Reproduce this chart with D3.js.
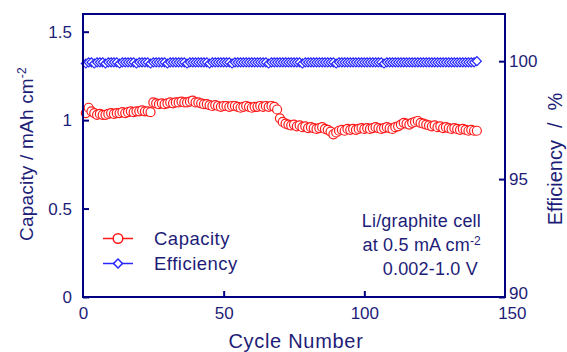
<!DOCTYPE html>
<html>
<head>
<meta charset="utf-8">
<script src="https://cdn.jsdelivr.net/npm/d3@7"></script>
<style>
  body { margin: 0; background: #fff; }
  text { font-family: "Liberation Sans", Arial, sans-serif; }
</style>
</head>
<body>
<svg id="chart" width="567" height="352"></svg>
<script>
// capacity (mAh cm-2) for cycles 1..140
const capacity = [
  1.04, 1.07, 1.05, 1.04, 1.03, 1.035, 1.03, 1.03, 1.035, 1.04, 1.035, 1.04, 1.04, 1.045, 1.04, 1.045, 1.05, 1.045, 1.05, 1.05, 1.055, 1.05, 1.05, 1.045,
  1.10, 1.095, 1.09, 1.095, 1.09, 1.095, 1.10, 1.095, 1.10, 1.10, 1.105, 1.10, 1.10, 1.105, 1.11, 1.10, 1.10, 1.095, 1.09, 1.09, 1.085,
  1.08, 1.085, 1.08, 1.075, 1.08, 1.08, 1.075, 1.08, 1.08, 1.075, 1.07, 1.075, 1.08, 1.075, 1.07, 1.075, 1.075, 1.08, 1.075, 1.08, 1.075, 1.08, 1.075,
  1.06, 1.01, 0.99, 0.98, 0.975, 0.97, 0.975, 0.965, 0.97, 0.96, 0.965, 0.955,
  0.96, 0.955, 0.95, 0.955, 0.96, 0.95, 0.945, 0.935, 0.92, 0.93,
  0.94, 0.945, 0.94, 0.95, 0.945, 0.95, 0.945, 0.95, 0.955, 0.95, 0.955, 0.95, 0.955, 0.96, 0.955, 0.95, 0.955, 0.96, 0.955, 0.95,
  0.96, 0.965, 0.975, 0.985, 0.98, 0.975, 0.985, 0.99, 0.995, 0.985, 0.98, 0.975,
  0.97, 0.965, 0.97, 0.96, 0.965, 0.955, 0.96, 0.955, 0.95, 0.955, 0.95, 0.945, 0.95, 0.945, 0.94, 0.945, 0.94, 0.94
];

// coulombic efficiency (%) for cycles 1..140
const efficiency = [
  99.9, 99.95, 99.95, 99.9, 99.95, 99.95, 99.95, 99.9, 99.95, 99.95, 99.95, 99.95, 99.9, 99.95, 99.95, 99.95, 99.95, 99.95, 99.9, 99.95,
  99.95, 99.95, 99.95, 99.9, 99.95, 99.95, 99.95, 99.95, 99.95, 99.9, 99.95, 99.95, 99.95, 99.95, 99.95, 99.95, 99.9, 99.95, 99.95, 99.95,
  99.95, 99.95, 99.95, 99.95, 99.9, 99.95, 99.95, 99.95, 99.95, 99.95, 99.95, 99.95, 99.9, 99.95, 99.95, 99.95, 99.95, 99.95, 99.95, 99.95,
  99.95, 99.95, 99.95, 99.95, 99.95, 99.9, 99.95, 99.95, 99.95, 99.95, 99.95, 99.95, 99.95, 99.95, 99.95, 99.95, 99.95, 99.9, 99.95, 99.95,
  99.95, 99.95, 99.95, 99.95, 99.95, 99.95, 99.95, 99.95, 99.95, 99.9, 99.95, 99.95, 99.95, 99.95, 99.95, 99.95, 99.95, 99.95, 99.95, 99.95,
  99.95, 99.95, 99.95, 99.95, 99.95, 99.95, 99.9, 99.95, 99.95, 99.95, 99.95, 99.95, 99.95, 99.95, 99.95, 99.95, 99.95, 99.95, 99.95, 99.95,
  99.95, 99.95, 99.95, 99.95, 99.95, 99.95, 99.95, 99.95, 99.95, 99.95, 99.95, 99.95, 99.95, 99.95, 99.95, 99.95, 99.95, 99.95, 99.95, 100.0
];

const xTicks = [0, 50, 100, 150];
const capTicks = [0, 0.5, 1, 1.5];
const effTicks = [90, 95, 100];
const seriesNames = ["Capacity", "Efficiency"];
const noteLines = ["Li/graphite cell", "at 0.5 mA cm", "0.002-1.0 V"];

const navy = "#000080";
const textCol = "#1d1d78";
const red = "#ff1a1a";
const blue = "#2626ff";

const svg = d3.select("#chart");
const mLeft = 83, mRight = 505, mTop = 14, mBottom = 297;

const x = d3.scaleLinear().domain([0, 150]).range([mLeft, mRight]);
const yCap = d3.scaleLinear().domain([0, 1.6]).range([mBottom, mTop]);
const yEff = d3.scaleLinear().domain([90, 102]).range([mBottom, mTop]);

const diamond = d3.symbol().type(d3.symbolSquare).size(40);

// efficiency markers (drawn first, behind)
svg.append("g")
  .selectAll("path")
  .data(efficiency)
  .join("path")
    .attr("d", diamond)
    .attr("transform", (d, i) => `translate(${x(i + 1)},${yEff(d)}) rotate(45)`)
    .attr("fill", "#fff")
    .attr("stroke", blue)
    .attr("stroke-width", 1.2);

// capacity markers
svg.append("g")
  .selectAll("circle")
  .data(capacity)
  .join("circle")
    .attr("cx", (d, i) => x(i + 1))
    .attr("cy", d => yCap(d))
    .attr("r", 4.5)
    .attr("fill", "#fff")
    .attr("stroke", red)
    .attr("stroke-width", 1.2);

// axes
function styleAxis(g) {
  g.select(".domain").remove();
  g.selectAll(".tick line").attr("stroke", navy).attr("stroke-width", 2);
  g.selectAll(".tick text")
    .attr("fill", textCol)
    .style("font-size", "17px")
    .style("font-family", "Liberation Sans, Arial, sans-serif");
}

svg.append("g")
  .attr("transform", `translate(${mLeft},0)`)
  .call(d3.axisLeft(yCap).tickValues(capTicks).tickFormat(d => d).tickSize(-6).tickPadding(11))
  .call(styleAxis);

svg.append("g")
  .attr("transform", `translate(${mRight},0)`)
  .call(d3.axisRight(yEff).tickValues(effTicks).tickFormat(d => d).tickSize(-6).tickPadding(4))
  .call(styleAxis)
  .call(g => g.selectAll(".tick text").filter(d => d === 90).attr("dy", "0.1em"));

svg.append("g")
  .attr("transform", `translate(0,${mBottom})`)
  .call(d3.axisBottom(x).tickValues(xTicks).tickSize(-6).tickPadding(10))
  .call(styleAxis)
  .call(g => g.selectAll(".tick line").filter(d => d === 0 || d === 150).remove())
  .call(g => g.selectAll(".tick text").filter(d => d === 150).attr("dx", "0.4em"));

// frame
svg.append("rect")
  .attr("x", mLeft).attr("y", mTop)
  .attr("width", mRight - mLeft).attr("height", mBottom - mTop)
  .attr("fill", "none")
  .attr("stroke", navy)
  .attr("stroke-width", 2);

// axis titles
svg.append("text")
  .attr("transform", "translate(33,154) rotate(-90)")
  .attr("text-anchor", "middle")
  .attr("fill", textCol)
  .style("font-size", "19px")
  .style("letter-spacing", "0.2px")
  .call(t => {
    t.append("tspan").text("Capacity / mAh cm");
    t.append("tspan").attr("dy", "-0.55em").style("font-size", "12px").text("-2");
  });

svg.append("text")
  .attr("transform", "translate(562,159) rotate(-90)")
  .attr("text-anchor", "middle")
  .attr("fill", textCol)
  .style("font-size", "20px")
  .call(t => {
    t.append("tspan").text("Efficiency");
    t.append("tspan").attr("dx", 12).text("/");
    t.append("tspan").attr("dx", 12).text("%");
  });

svg.append("text")
  .attr("x", 296).attr("y", 348)
  .attr("text-anchor", "middle")
  .attr("fill", textCol)
  .style("font-size", "20px")
  .style("letter-spacing", "0.7px")
  .text("Cycle Number");

// legend
const legend = svg.append("g");
seriesNames.forEach((name, i) => {
  const ly = 238.5 + i * 25;
  legend.append("line")
    .attr("x1", 103).attr("x2", 133).attr("y1", ly).attr("y2", ly)
    .attr("stroke", i === 0 ? red : blue).attr("stroke-width", 1.5);
  if (i === 0) {
    legend.append("circle").attr("cx", 118).attr("cy", ly).attr("r", 4.8)
      .attr("fill", "#fff").attr("stroke", red).attr("stroke-width", 1.5);
  } else {
    legend.append("path").attr("d", diamond)
      .attr("transform", `translate(118,${ly}) rotate(45)`)
      .attr("fill", "#fff").attr("stroke", blue).attr("stroke-width", 1.5);
  }
  legend.append("text")
    .attr("x", 154).attr("y", ly + 6.5)
    .attr("fill", textCol)
    .style("font-size", "18.5px")
    .style("letter-spacing", "0.5px")
    .text(name);
});

// annotation
noteLines.forEach((line, i) => {
  const t = svg.append("text")
    .attr("x", i === 2 ? 478 : 481).attr("y", 227 + i * 23.8)
    .attr("text-anchor", "end")
    .attr("fill", textCol)
    .style("font-size", "18px")
    .style("letter-spacing", "0.2px");
  t.append("tspan").text(line);
  if (i === 1) t.append("tspan").attr("dy", "-0.45em").style("font-size", "12px").text("-2");
});
</script>
</body>
</html>
